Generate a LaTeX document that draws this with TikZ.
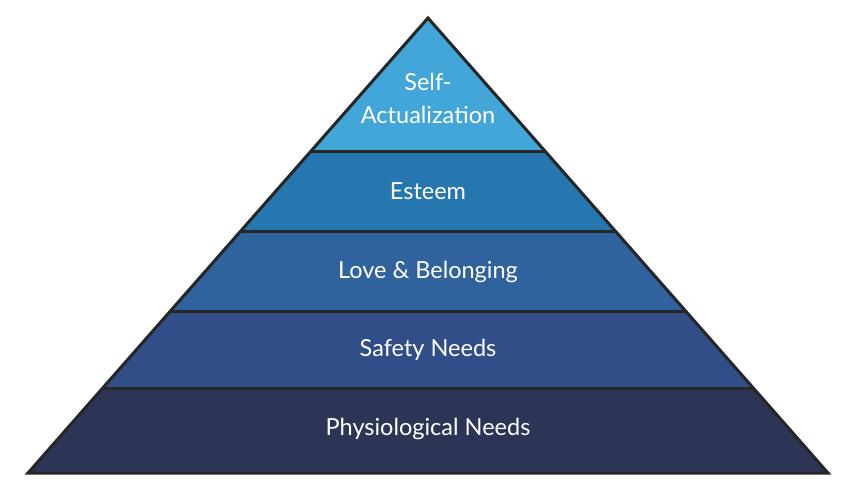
\documentclass[tikz,border=0pt]{standalone}
\usepackage{fontspec}
\setmainfont{Lato}
\definecolor{selfblue}{HTML}{42A6D8}
\definecolor{esteemblue}{HTML}{2677B0}
\definecolor{loveblue}{HTML}{30629D}
\definecolor{safetyblue}{HTML}{314E88}
\definecolor{physioblue}{HTML}{2D3557}
\tikzset{
  layertext/.style={text=white,font=\fontsize{23.5}{33}\selectfont,align=center},
  edge/.style={draw=black!85,line width=3pt,line join=miter}
}
\begin{document}
\begin{tikzpicture}[x=1pt,y=-1pt]
\useasboundingbox (0,0) rectangle (855,485);
% layers
\fill[selfblue] (428,18) -- (311.1,151) -- (544.9,151) -- cycle;
\fill[esteemblue] (311.1,151) -- (240.7,231) -- (615.3,231) -- (544.9,151) -- cycle;
\fill[loveblue] (240.7,231) -- (170.4,311) -- (685.6,311) -- (615.3,231) -- cycle;
\fill[safetyblue] (170.4,311) -- (102.7,388) -- (753.3,388) -- (685.6,311) -- cycle;
\fill[physioblue] (102.7,388) -- (28,473) -- (828,473) -- (753.3,388) -- cycle;
% dividing lines
\draw[edge] (311.1,151) -- (544.9,151);
\draw[edge] (240.7,231) -- (615.3,231);
\draw[edge] (170.4,311) -- (685.6,311);
\draw[edge] (102.7,388) -- (753.3,388);
% outline
\draw[edge] (428,18) -- (28,473) -- (828,473) -- cycle;
% labels
\node[layertext] (self) at (428,98) {Self-\\Actualization};
\node[layertext] (esteem) at (428,191) {Esteem};
\node[layertext] (love) at (428,272) {Love \& Belonging};
\node[layertext] (safety) at (428,350) {Safety Needs};
\node[layertext] (physio) at (428,429) {Physiological Needs};
\end{tikzpicture}
\end{document}
